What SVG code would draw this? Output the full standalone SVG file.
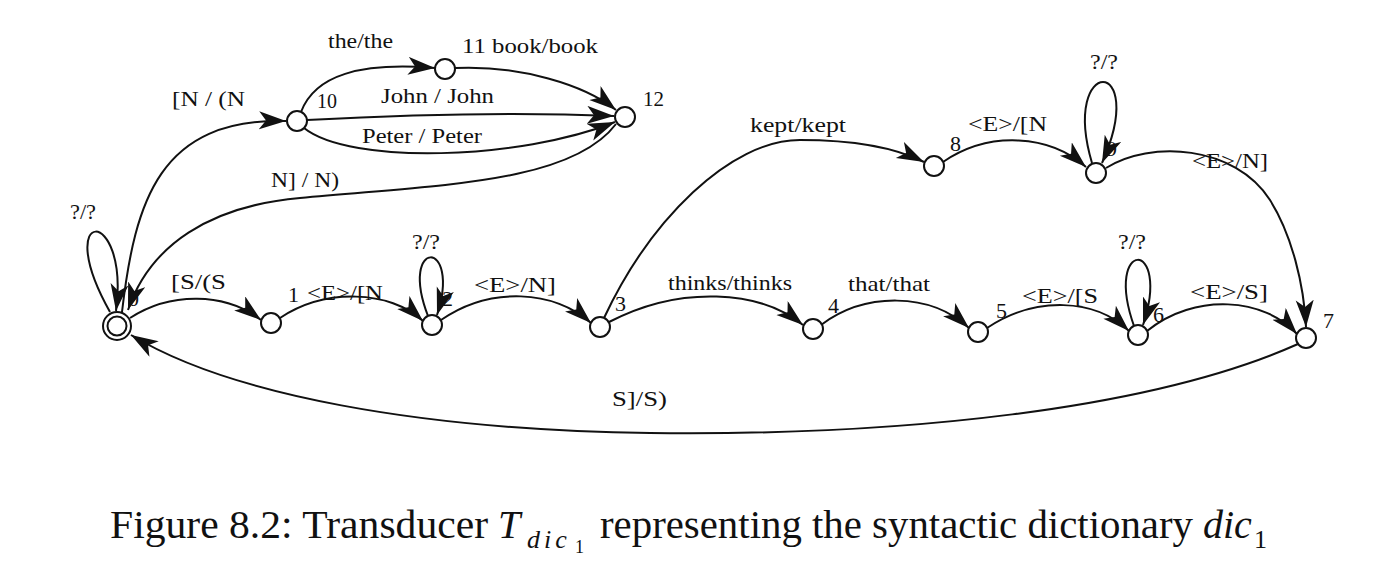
<svg xmlns="http://www.w3.org/2000/svg" width="1384" height="584" viewBox="0 0 1384 584">
<style>
.lbl{font-family:"Liberation Serif","Times New Roman",serif;font-size:22px;fill:#111}
.cap{font-family:"Liberation Serif","Times New Roman",serif;font-size:40px;fill:#111}
.it{font-style:italic}
.node{fill:#fff;stroke:#111;stroke-width:2}
.edge{fill:none;stroke:#111;stroke-width:2;marker-end:url(#ah)}
</style>
<defs>
<marker id="ah" markerUnits="userSpaceOnUse" markerWidth="30" markerHeight="20" refX="27" refY="9" orient="auto">
<path d="M0,0 L27,9 L0,18 L7,9 z" fill="#111"/>
</marker>
</defs>
<rect width="1384" height="584" fill="#fff"/>
<g id="connectors">
<path class="edge" d="M130,318 C170,292 225,292 261,320"/>
<path class="edge" d="M280,318 C325,288 390,290 423,321"/>
<path class="edge" d="M441,320 C490,286 555,290 591,323"/>
<path class="edge" d="M609,322 C680,285 760,290 803,325"/>
<path class="edge" d="M821,325 C865,292 930,292 969,328"/>
<path class="edge" d="M987,328 C1035,296 1095,298 1129,331"/>
<path class="edge" d="M1147,331 C1195,292 1265,298 1297,334"/>
<path class="edge" d="M604,318 C650,220 730,140 800,140 C860,140 900,150 924,162"/>
<path class="edge" d="M943,162 C990,130 1050,135 1086,167"/>
<path class="edge" d="M1106,168 C1150,140 1235,145 1270,200 C1292,235 1304,285 1306,327"/>
<path class="edge" d="M1298,344 C1150,410 900,436 650,433 C420,430 230,395 131,335"/>
<path class="edge" d="M122,312 C135,200 160,118 286,121"/>
<path class="edge" d="M616,124 C570,185 430,185 300,198 C210,206 150,245 128,310"/>
<path class="edge" d="M301,112 C315,75 360,62 435,68"/>
<path class="edge" d="M455,68 C520,65 585,85 616,110"/>
<path class="edge" d="M307,120 C400,115 520,112 614,116"/>
<path class="edge" d="M304,128 C350,165 520,160 615,122"/>
<path class="edge" d="M110,312 C50,205 130,205 116,311"/>
<path class="edge" d="M428,316 C398,238 462,238 437,315"/>
<path class="edge" d="M1134,326 C1103,238 1172,238 1143,325"/>
<path class="edge" d="M1092,163 C1060,55 1150,55 1102,163"/>
</g>
<g id="n0"><circle class="node" cx="117" cy="326" r="14"/><circle class="node" cx="117" cy="326" r="9.5"/><text class="lbl" x="128" y="306">0</text></g>
<g id="n1"><circle class="node" cx="271" cy="323" r="10"/><text class="lbl" x="288" y="302">1</text></g>
<g id="n2"><circle class="node" cx="432" cy="325" r="10"/><text class="lbl" x="442" y="306">2</text></g>
<g id="n3"><circle class="node" cx="600" cy="327" r="10"/><text class="lbl" x="615" y="311">3</text></g>
<g id="n4"><circle class="node" cx="813" cy="329" r="10"/><text class="lbl" x="828" y="313">4</text></g>
<g id="n5"><circle class="node" cx="978" cy="332" r="10"/><text class="lbl" x="996" y="318">5</text></g>
<g id="n6"><circle class="node" cx="1138" cy="335" r="10"/><text class="lbl" x="1153" y="322">6</text></g>
<g id="n7"><circle class="node" cx="1306" cy="338" r="10"/><text class="lbl" x="1323" y="328">7</text></g>
<g id="n8"><circle class="node" cx="934" cy="166" r="10"/><text class="lbl" x="950" y="151">8</text></g>
<g id="n9"><circle class="node" cx="1096" cy="173" r="10"/><text class="lbl" x="1106" y="156">9</text></g>
<g id="n10"><circle class="node" cx="297" cy="121" r="10"/><text class="lbl" x="317" y="108" textLength="20" lengthAdjust="spacingAndGlyphs">10</text></g>
<g id="n11"><circle class="node" cx="445" cy="69" r="10"/></g>
<g id="n12"><circle class="node" cx="625" cy="117" r="10"/><text class="lbl" x="643" y="106" textLength="21" lengthAdjust="spacingAndGlyphs">12</text></g>
<g id="labels">
<text class="lbl" x="328" y="48" textLength="65" lengthAdjust="spacingAndGlyphs">the/the</text>
<text class="lbl" x="462" y="53" textLength="136" lengthAdjust="spacingAndGlyphs">11 book/book</text>
<text class="lbl" x="172" y="106" textLength="73" lengthAdjust="spacingAndGlyphs">[N / (N</text>
<text class="lbl" x="381" y="103" textLength="113" lengthAdjust="spacingAndGlyphs">John / John</text>
<text class="lbl" x="362" y="143" textLength="120" lengthAdjust="spacingAndGlyphs">Peter / Peter</text>
<text class="lbl" x="271" y="187" textLength="68" lengthAdjust="spacingAndGlyphs">N] / N)</text>
<text class="lbl" x="70" y="219" textLength="26" lengthAdjust="spacingAndGlyphs">?/?</text>
<text class="lbl" x="750" y="132" textLength="96" lengthAdjust="spacingAndGlyphs">kept/kept</text>
<text class="lbl" x="968" y="131" textLength="79" lengthAdjust="spacingAndGlyphs">&lt;E&gt;/[N</text>
<text class="lbl" x="1090" y="69" textLength="28" lengthAdjust="spacingAndGlyphs">?/?</text>
<text class="lbl" x="1192" y="168" textLength="76" lengthAdjust="spacingAndGlyphs">&lt;E&gt;/N]</text>
<text class="lbl" x="171" y="289" textLength="55" lengthAdjust="spacingAndGlyphs">[S/(S</text>
<text class="lbl" x="307" y="300" textLength="76" lengthAdjust="spacingAndGlyphs">&lt;E&gt;/[N</text>
<text class="lbl" x="412" y="249" textLength="28" lengthAdjust="spacingAndGlyphs">?/?</text>
<text class="lbl" x="474" y="292" textLength="82" lengthAdjust="spacingAndGlyphs">&lt;E&gt;/N]</text>
<text class="lbl" x="668" y="290" textLength="124" lengthAdjust="spacingAndGlyphs">thinks/thinks</text>
<text class="lbl" x="848" y="291" textLength="82" lengthAdjust="spacingAndGlyphs">that/that</text>
<text class="lbl" x="1022" y="303" textLength="76" lengthAdjust="spacingAndGlyphs">&lt;E&gt;/[S</text>
<text class="lbl" x="1118" y="249" textLength="28" lengthAdjust="spacingAndGlyphs">?/?</text>
<text class="lbl" x="1190" y="299" textLength="78" lengthAdjust="spacingAndGlyphs">&lt;E&gt;/S]</text>
<text class="lbl" x="612" y="406" textLength="55" lengthAdjust="spacingAndGlyphs">S]/S)</text>
</g>
<g id="caption">
<text class="cap" x="110" y="538" textLength="378" lengthAdjust="spacingAndGlyphs">Figure 8.2: Transducer</text>
<text class="cap it" x="498" y="538">T</text>
<text class="cap it" x="527" y="548" style="font-size:26px;letter-spacing:4px">dic</text>
<text class="cap" x="575" y="553" style="font-size:18px">1</text>
<text class="cap" x="600" y="538" textLength="593" lengthAdjust="spacingAndGlyphs">representing the syntactic dictionary</text>
<text class="cap it" x="1203" y="538">dic</text>
<text class="cap" x="1254" y="548" style="font-size:26px">1</text>
</g>
</svg>
